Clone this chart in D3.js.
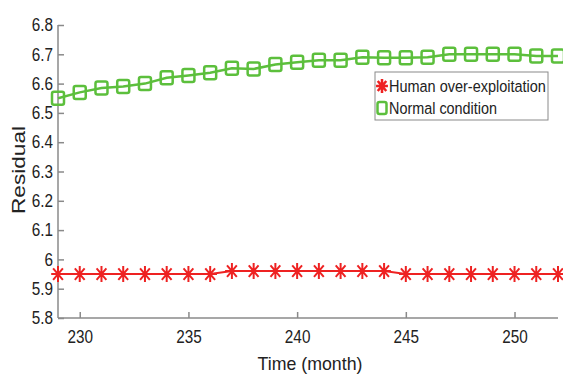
<!DOCTYPE html>
<html><head><meta charset="utf-8">
<script src="https://cdn.jsdelivr.net/npm/d3@7"></script>
<style>
body{margin:0;background:#fff;}
text{font-family:"Liberation Sans",Arial,sans-serif;fill:#222;}
</style></head>
<body><svg id="c" width="563" height="380"></svg>
<script>
const months = d3.range(229, 253);
const humanValues = [5.95,5.95,5.95,5.95,5.95,5.95,5.95,5.95,5.96,5.96,5.96,5.96,5.96,5.96,5.96,5.96,5.95,5.95,5.95,5.95,5.95,5.95,5.95,5.95];
const normalValues = [6.55,6.57,6.585,6.59,6.60,6.62,6.628,6.637,6.652,6.65,6.665,6.673,6.68,6.68,6.69,6.688,6.688,6.69,6.70,6.70,6.70,6.70,6.694,6.694];
const xTicks = [230,235,240,245,250];
const yTicks = [5.8,5.9,6,6.1,6.2,6.3,6.4,6.5,6.6,6.7,6.8];
const seriesNames = ["Human over-exploitation","Normal condition"];

const svg = d3.select("#c");
const x = d3.scaleLinear().domain([229,252]).range([58,558]);
const y = d3.scaleLinear().domain([5.8,6.8]).range([318,25]);
const red = "#ee2222", green = "#5cbf3c", axisCol = "#8a8a8a";

function condense(sel, f){
  sel.each(function(){
    const w = this.getComputedTextLength();
    d3.select(this).attr("textLength", w*f).attr("lengthAdjust","spacingAndGlyphs");
  });
}
// squeeze a text horizontally with a transform so that its width is w
function squeezeTo(sel, px, py, w){
  const nat = sel.node().getComputedTextLength();
  sel.attr("x",0).attr("y",0).attr("transform",`translate(${px},${py}) scale(${w/nat},1)`);
}

// axes
const xa = svg.append("g").attr("transform","translate(0,318)")
  .call(d3.axisBottom(x).tickValues(xTicks).tickSizeInner(-6).tickSizeOuter(0).tickPadding(12).tickFormat(d3.format("d")));
const ya = svg.append("g").attr("transform","translate(58,0)")
  .call(d3.axisLeft(y).tickValues(yTicks).tickSizeInner(-6).tickSizeOuter(0).tickPadding(5).tickFormat(d=>d3.format("")(d)));
[xa,ya].forEach(a=>{
  a.selectAll("path,line").attr("stroke",axisCol).attr("stroke-width",1.5);
  a.selectAll("text").attr("font-size",18).attr("fill","#222")
   .style("font-family",'"Liberation Sans",Arial,sans-serif');
  condense(a.selectAll("text"),0.85);
});
xa.select(".domain").attr("d","M58,0H558");
ya.select(".domain").attr("d","M0,318V25");

const xt = svg.append("text").attr("text-anchor","middle").attr("font-size",18.5).text("Time (month)");
squeezeTo(xt,310,370,105);
const yt = svg.append("text").attr("transform","translate(25,170) scale(0.8,1) rotate(-90)").attr("text-anchor","middle").attr("font-size",22).text("Residual");
yt.attr("textLength",88).attr("lengthAdjust","spacingAndGlyphs");

const line = d3.line().x(d=>x(d[0])).y(d=>y(d[1]));
const hData = months.map((m,i)=>[m,humanValues[i]]);
const nData = months.map((m,i)=>[m,normalValues[i]]);

function star(g,cx,cy,s,col,sw){
  const r=s/2, d=r*0.72;
  g.append("path").attr("d",`M${cx-r*0.85},${cy}H${cx+r*0.85}M${cx},${cy-r}V${cy+r}M${cx-d*0.85},${cy-d}L${cx+d*0.85},${cy+d}M${cx-d*0.85},${cy+d}L${cx+d*0.85},${cy-d}`)
   .attr("stroke",col).attr("stroke-width",sw||2).attr("fill","none");
}
function square(g,cx,cy,w,h,col){
  g.append("rect").attr("x",cx-w/2).attr("y",cy-h/2).attr("width",w).attr("height",h).attr("rx",2)
   .attr("fill","none").attr("stroke",col).attr("stroke-width",2.5);
}

const plot = svg.append("g");
plot.append("path").datum(nData).attr("d",line).attr("fill","none").attr("stroke",green).attr("stroke-width",2.5);
nData.forEach(d=>square(plot,x(d[0]),y(d[1]),12,13,green));
plot.append("path").datum(hData).attr("d",line).attr("fill","none").attr("stroke",red).attr("stroke-width",2);
hData.forEach(d=>star(plot,x(d[0]),y(d[1]),16,red));

// legend
const lg = svg.append("g");
lg.append("rect").attr("x",375).attr("y",72).attr("width",173).attr("height",48).attr("fill","#fff").attr("stroke","#8a8a8a").attr("stroke-width",1);
star(lg,382,86,14,red,2.5);
square(lg,382,108,9,12,green);
const t1 = lg.append("text").attr("font-size",17).text(seriesNames[0]);
const t2 = lg.append("text").attr("font-size",17).text(seriesNames[1]);
squeezeTo(t1,389,92,157); squeezeTo(t2,389,114,108);
</script></body></html>
